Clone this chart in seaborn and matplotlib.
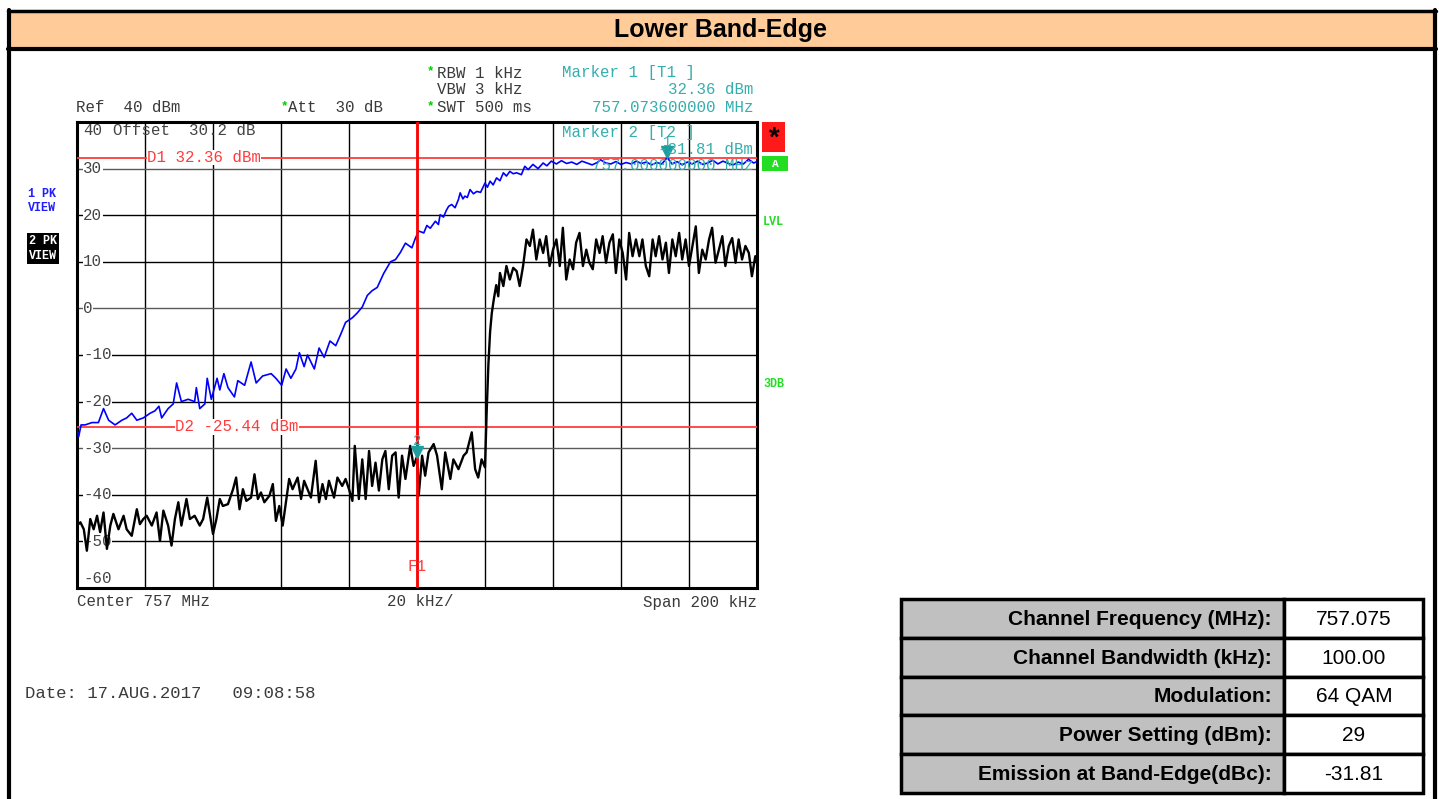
import matplotlib
matplotlib.use("Agg")
import matplotlib.pyplot as plt
import seaborn as sns
import pandas as pd
from matplotlib.patches import Rectangle
from matplotlib.lines import Line2D

# ---------------- data ----------------
# frequency offset from 756.9 MHz (kHz), level (dBm)
blue_khz = [0, 0.5, 1.2, 2.4, 4.4, 6.3, 7.8, 9.3, 11.2, 13.2, 14.6, 16.1, 17.6, 19.5,
            21.5, 22.9, 24.1, 24.9, 26.8, 28.3, 29.3, 30.7, 32.7, 34.6, 35.1, 36.1,
            37.6, 38.3, 39.5, 41.2, 42.0, 43.2, 44.4, 46.3, 47.3, 49.3, 51.2, 52.7,
            54.6, 57.1, 58.5, 60.2, 61.5, 62.9, 64.4, 65.4, 66.8, 67.8, 69.8, 71.2,
            72.7, 74.4, 76.1, 77.6, 79.0, 81.0, 82.4, 83.9, 85.4, 86.8, 88.3, 90.2,
            92.2, 93.7, 95.1, 96.6, 98.5, 99.5, 100.5, 102.0, 102.9, 103.9, 105.4,
            106.3, 106.8, 107.8, 108.6, 109.3, 110.2, 111.2, 112.2, 112.7, 113.5,
            114.1, 114.8, 115.6, 116.6, 117.6, 118.7, 120.0, 120.7, 121.5, 122.4,
            123.4, 124.4, 125.4, 126.3, 127.3, 128.3, 129.3, 130.7, 131.7, 132.7,
            134.1, 135.6, 137.1, 138.2, 139.5, 141.0, 142.5, 144.0, 145.5, 147.0,
            148.5, 150.0, 151.5, 153.0, 154.0, 155.5, 157.0, 158.5, 160.0, 161.5,
            163.0, 164.5, 166.0, 167.5, 169.0, 170.5, 172.0, 173.6, 175.0, 176.5,
            178.0, 179.5, 181.0, 182.5, 184.0, 185.5, 187.0, 188.5, 190.0, 191.5,
            193.0, 194.5, 196.0, 197.5, 199.0, 200.0]
blue_dbm = [-26.0, -27.5, -25.0, -25.0, -24.5, -24.5, -21.5, -24.0, -25.0, -24.0,
            -23.5, -22.5, -24.0, -23.5, -22.5, -22.0, -21.0, -23.5, -21.5, -20.5,
            -16.0, -20.0, -19.5, -20.0, -17.0, -21.5, -20.5, -15.0, -19.5, -15.0,
            -17.5, -14.0, -17.0, -19.0, -15.5, -16.5, -11.5, -16.0, -14.5, -14.0,
            -15.0, -16.5, -13.0, -15.0, -13.0, -9.5, -12.5, -10.0, -13.0, -8.5,
            -10.5, -7.0, -8.0, -5.5, -3.0, -2.0, -1.0, 0.3, 2.8, 3.8, 4.5, 7.5,
            10.0, 10.5, 12.0, 14.0, 13.0, 15.0, 16.6, 16.2, 17.8, 17.2, 18.7, 18.0,
            20.1, 19.6, 21.0, 21.9, 22.3, 21.6, 23.4, 24.8, 23.5, 24.1, 23.8, 25.5,
            24.6, 25.1, 24.9, 26.9, 26.0, 27.3, 26.5, 28.0, 27.4, 29.1, 28.4, 29.4,
            28.9, 29.1, 28.7, 30.5, 29.8, 30.9, 30.0, 31.2, 30.6, 31.6, 31.0, 31.7,
            31.1, 31.4, 30.9, 31.6, 31.2, 30.8, 31.3, 31.9, 31.2, 31.0, 31.5, 30.9,
            31.3, 31.0, 31.6, 31.1, 31.4, 30.8, 31.3, 31.0, 32.36, 31.0, 31.5, 30.8,
            31.4, 31.0, 31.6, 30.9, 31.2, 31.8, 31.0, 31.6, 31.1, 30.8, 31.4, 31.0,
            32.0, 31.2, 31.5]

black_khz = [0, 1.0, 2.0, 2.9, 3.9, 4.9, 5.9, 6.8, 7.8, 8.8, 9.8, 10.7, 12.2, 13.7,
             14.6, 16.1, 17.6, 18.5, 19.5, 20.5, 22.0, 23.4, 24.4, 25.4, 26.8, 27.8,
             28.8, 29.8, 30.7, 32.2, 33.2, 34.6, 36.1, 37.1, 38.3, 39.0, 40.0, 41.0,
             42.0, 42.9, 44.4, 45.9, 46.8, 47.8, 48.8, 49.8, 51.2, 52.2, 53.2, 54.1,
             55.1, 56.6, 57.6, 58.5, 59.5, 60.5, 61.5, 62.4, 63.4, 64.9, 65.9, 66.8,
             67.8, 68.8, 70.2, 71.2, 72.2, 73.2, 74.1, 75.6, 76.6, 78.0, 79.0, 80.0,
             81.0, 81.7, 82.9, 83.9, 84.9, 85.9, 86.8, 87.8, 88.8, 89.8, 90.7, 91.7,
             92.7, 93.7, 94.6, 95.6, 96.6, 98.0, 99.0, 100.0, 100.5, 101.5, 102.4,
             103.4, 104.9, 105.9, 107.3, 108.3, 109.8, 110.7, 112.2, 113.7, 114.6,
             116.1, 117.1, 118.0, 119.0, 120.0, 120.5, 121.0, 121.5, 122.0, 122.6,
             123.3, 123.9, 124.4, 125.4, 126.3, 127.3, 128.3, 129.3, 130.2, 131.2,
             132.2, 133.2, 134.1, 135.1, 136.1, 137.1, 138.0, 139.0, 140.0, 141.0,
             142.0, 142.9, 143.9, 144.9, 145.9, 146.8, 147.8, 148.8, 149.8, 150.7,
             151.7, 152.7, 153.7, 154.6, 155.6, 156.6, 157.6, 158.5, 159.5, 160.5,
             161.5, 162.4, 163.4, 164.4, 165.4, 166.3, 167.3, 168.3, 169.3, 170.2,
             171.2, 172.2, 173.2, 174.1, 175.1, 176.1, 177.1, 178.0, 179.0, 180.0,
             181.0, 182.0, 182.9, 183.9, 184.9, 185.9, 186.8, 187.8, 188.8, 189.8,
             190.7, 191.7, 192.7, 193.7, 194.6, 195.6, 196.6, 197.6, 198.5, 199.5,
             200.0]
black_dbm = [-46.6, -45.9, -47.4, -52.0, -45.2, -47.4, -44.5, -48.0, -43.8, -51.6,
             -46.6, -44.1, -47.4, -44.5, -47.4, -48.8, -43.1, -46.3, -45.2, -44.5,
             -46.6, -43.8, -49.9, -43.4, -46.6, -50.9, -45.2, -41.6, -46.6, -40.9,
             -45.2, -44.5, -46.6, -45.2, -40.6, -43.8, -48.4, -45.2, -40.9, -42.4,
             -42.0, -38.8, -36.3, -43.1, -38.8, -41.3, -40.6, -35.6, -40.9, -39.5,
             -41.6, -40.2, -37.7, -45.6, -42.4, -46.6, -41.3, -36.6, -38.8, -36.3,
             -40.9, -37.0, -38.8, -40.6, -32.7, -41.6, -37.7, -40.9, -37.0, -40.6,
             -36.3, -38.1, -36.6, -38.8, -41.3, -29.5, -40.9, -32.4, -40.9, -30.6,
             -38.1, -33.1, -39.1, -32.4, -30.6, -38.8, -31.6, -30.9, -40.6, -31.6,
             -36.6, -29.5, -33.8, -31.81, -40.2, -31.6, -35.9, -30.9, -29.1, -31.6,
             -38.8, -30.9, -36.6, -32.4, -34.5, -31.6, -30.9, -26.6, -34.5, -36.3,
             -32.4, -34.1, -22.0, -12.0, -5.0, -1.0, 2.0, 5.0, 2.6, 7.6, 4.8, 9.1,
             6.2, 8.7, 8.0, 4.8, 9.1, 14.8, 13.4, 16.9, 10.5, 14.8, 11.9, 15.5, 9.1,
             12.6, 14.8, 9.1, 17.3, 6.2, 10.5, 8.4, 14.1, 16.2, 9.1, 12.6, 9.8, 8.4,
             14.8, 11.9, 15.5, 9.8, 14.1, 15.9, 7.6, 14.8, 11.9, 6.2, 16.2, 11.2,
             14.8, 11.2, 14.8, 9.1, 6.9, 14.8, 11.2, 15.5, 10.5, 14.1, 7.6, 14.8,
             11.2, 16.2, 10.5, 14.8, 9.1, 13.4, 17.6, 7.6, 12.6, 10.5, 14.8, 17.3,
             9.8, 12.6, 15.5, 9.1, 13.4, 15.1, 9.8, 14.8, 10.5, 13.4, 11.9, 6.9,
             11.2, 9.8]

y_ticks = [40, 30, 20, 10, 0, -10, -20, -30, -40, -50, -60]
x_grid = [0, 20, 40, 60, 80, 100, 120, 140, 160, 180, 200]
d1_level, d2_level = 32.36, -25.44
f1_khz = 100.0
marker_khz = [173.6, 100.0]
marker_dbm = [32.36, -31.81]
marker_names = ["1", "2"]

table_labels = ["Channel Frequency (MHz):", "Channel Bandwidth (kHz):", "Modulation:",
                "Power Setting (dBm):", "Emission at Band-Edge(dBc):"]
table_values = ["757.075", "100.00", "64 QAM", "29", "-31.81"]

# ---------------- figure ----------------
W, H = 1439, 799
sns.set_theme(style="white")
plt.rcParams["font.family"] = ["Liberation Mono", "DejaVu Sans Mono"]

fig = plt.figure(figsize=(W / 100, H / 100), dpi=100)
fig.patch.set_facecolor("white")


def fx(x):
    return x / W


def fy(y):
    return 1 - y / H


MONO = ["Liberation Mono", "DejaVu Sans Mono"]
SANS = ["Liberation Sans", "DejaVu Sans"]
GRAY = "#3a3a3a"
TEAL = "#35AEAE"
RED = "#FF3B3B"
GREEN = "#00CC00"
FS = 11.3


def ftext(x, y, s, **kw):
    kw.setdefault("family", MONO)
    kw.setdefault("fontsize", FS)
    kw.setdefault("color", GRAY)
    kw.setdefault("va", "center")
    fig.text(fx(x), fy(y), s, **kw)


# header band + page frame
fig.add_artist(Rectangle((fx(10), fy(48)), (1433 - 10) / W, (48 - 12) / H,
                         transform=fig.transFigure, fc="#FFCC99", ec="none", zorder=0))
for (x0, y0, x1, y1, lw) in [(8, 11, 1436, 11, 2.5), (8, 49, 1436, 49, 3),
                             (9, 10, 9, 799, 3), (1434.5, 10, 1434.5, 799, 3)]:
    fig.add_artist(Line2D([fx(x0), fx(x1)], [fy(y0), fy(y1)], transform=fig.transFigure,
                          color="black", lw=lw))
ftext(720, 30, "Lower Band-Edge", family=SANS, fontsize=18, weight="bold",
      color="black", ha="center")

# ---------------- spectrum axes ----------------
ax = fig.add_axes([fx(77), fy(588), 680 / W, 466 / H])
ax.set_xlim(0, 200)
ax.set_ylim(-60, 40)
ax.set_xticks([])
ax.set_yticks([])
ax.set_xlabel("")
ax.set_ylabel("")
for s in ax.spines.values():
    s.set_color("black")
    s.set_linewidth(2.2)
    s.set_visible(True)

for v in x_grid:
    ax.axvline(v, color="black", lw=1.0, zorder=1)
for h in y_ticks[1:-1]:
    ax.axhline(h, color="#5a5a5a" if h in (30, 0, -30) else "black", lw=1.0, zorder=1)

# tick labels drawn inside the screen
for t in y_ticks:
    yy = t
    if t == 40:
        yy = 38.1
    elif t == -60:
        yy = -57.9
    ax.text(1.8, yy, f"{t}", family=MONO, fontsize=FS, color="#444444", ha="left",
            va="center", zorder=2,
            bbox=dict(fc="white", ec="none", pad=0.3) if t not in (40, -60) else None)
ax.text(10.6, 38.1, "Offset  30.2 dB", family=MONO, fontsize=FS, color="#444444",
        ha="left", va="center", zorder=2)

# display lines
ax.axhline(d1_level, color=RED, lw=1.3, zorder=3)
ax.axhline(d2_level, color=RED, lw=1.3, zorder=3)
ax.text(20.6, d1_level, "D1 32.36 dBm", family=MONO, fontsize=FS, color=RED,
        ha="left", va="center", zorder=3.5, bbox=dict(fc="white", ec="none", pad=0.2))
ax.text(28.8, d2_level, "D2 -25.44 dBm", family=MONO, fontsize=FS, color=RED,
        ha="left", va="center", zorder=3.5, bbox=dict(fc="white", ec="none", pad=0.2))

# traces
df_blue = pd.DataFrame({"khz": blue_khz, "dbm": blue_dbm})
df_black = pd.DataFrame({"khz": black_khz, "dbm": black_dbm})
sns.lineplot(data=df_blue, x="khz", y="dbm", ax=ax, sort=False, estimator=None,
             color="#0000FF", lw=1.2, zorder=5)
sns.lineplot(data=df_black, x="khz", y="dbm", ax=ax, sort=False, estimator=None,
             color="black", lw=1.7, zorder=5)
ax.set_xlabel("")
ax.set_ylabel("")

# F1 line
ax.axvline(f1_khz, color="#FF0000", lw=2.0, zorder=6)
ax.text(f1_khz, -55.3, "F1", family=MONO, fontsize=FS, color=RED, ha="center",
        va="center", zorder=6)

# markers
for mk, md, mn in zip(marker_khz, marker_dbm, marker_names):
    ax.plot([mk], [md + 1.1], marker="v", ms=8, color="#1E9E9E", zorder=7)
    ax.text(mk, md + 3.3, mn, family=MONO, fontsize=10, color=TEAL, ha="center",
            va="center", zorder=7)

# marker 2 readout (inside screen)
ftext(562, 132, "Marker 2 [T2 ]", color=TEAL, ha="left")
ftext(753, 149, "-31.81 dBm", color=TEAL, ha="right")
ftext(753, 165, "757.000000000 MHz", color=TEAL, ha="right")

# ---------------- instrument text around the screen ----------------
ftext(76, 108, "Ref  40 dBm", ha="left")
ftext(281, 106, "*", color=GREEN, ha="left", fontsize=9, weight="bold")
ftext(288, 108, "Att  30 dB", ha="left")
ftext(427, 71, "*", color=GREEN, ha="left", fontsize=9, weight="bold")
ftext(437, 73, "RBW 1 kHz", ha="left")
ftext(437, 90, "VBW 3 kHz", ha="left")
ftext(427, 106, "*", color=GREEN, ha="left", fontsize=9, weight="bold")
ftext(437, 108, "SWT 500 ms", ha="left")
ftext(562, 73, "Marker 1 [T1 ]", color=TEAL, ha="left")
ftext(753, 90, "32.36 dBm", color=TEAL, ha="right")
ftext(753, 108, "757.073600000 MHz", color=TEAL, ha="right")

ftext(77, 602, "Center 757 MHz", ha="left")
ftext(387, 602, "20 kHz/", ha="left")
ftext(757, 602, "Span 200 kHz", ha="right")
ftext(25, 693, "Date: 17.AUG.2017   09:08:58", ha="left", fontsize=12.4)

# left trace labels
ftext(28, 194, "1 PK", color="#1f1fff", ha="left", fontsize=8.5, weight="bold")
ftext(28, 208, "VIEW", color="#1f1fff", ha="left", fontsize=8.5, weight="bold")
ftext(29, 241, "2 PK", color="white", ha="left", fontsize=8.5, weight="bold",
      bbox=dict(fc="black", ec="none", pad=1.2))
ftext(29, 256, "VIEW", color="white", ha="left", fontsize=8.5, weight="bold",
      bbox=dict(fc="black", ec="none", pad=1.2))

# right status boxes
fig.add_artist(Rectangle((fx(762), fy(151.5)), 23 / W, 30 / H, transform=fig.transFigure,
                         fc="#FF1A1A", ec="none"))
ftext(773.5, 140, "*", color="black", ha="center", fontsize=20, weight="bold")
fig.add_artist(Rectangle((fx(762), fy(171)), 26 / W, 14.5 / H, transform=fig.transFigure,
                         fc="#22DD22", ec="none"))
ftext(775, 164, "A", color="white", ha="center", fontsize=8, weight="bold")
ftext(763, 222, "LVL", color="#22DD22", ha="left", fontsize=8.5, weight="bold")
ftext(763, 384, "3DB", color="#22DD22", ha="left", fontsize=8.5, weight="bold")

# ---------------- parameter table ----------------
row_h = 38.8
for i, (lab, val) in enumerate(zip(table_labels, table_values)):
    y0 = 599 + i * row_h
    fig.add_artist(Rectangle((fx(901), fy(y0 + row_h)), (1284 - 901) / W, row_h / H,
                             transform=fig.transFigure, fc="#C0C0C0", ec="black", lw=2.5))
    fig.add_artist(Rectangle((fx(1284), fy(y0 + row_h)), (1423 - 1284) / W, row_h / H,
                             transform=fig.transFigure, fc="white", ec="black", lw=2.5))
    ftext(1272, y0 + row_h / 2 + 1, lab, family=SANS, fontsize=15, weight="bold",
          color="black", ha="right")
    ftext(1354, y0 + row_h / 2 + 1, val, family=SANS, fontsize=15, color="black",
          ha="center")

fig.savefig("out.png", dpi=100)
